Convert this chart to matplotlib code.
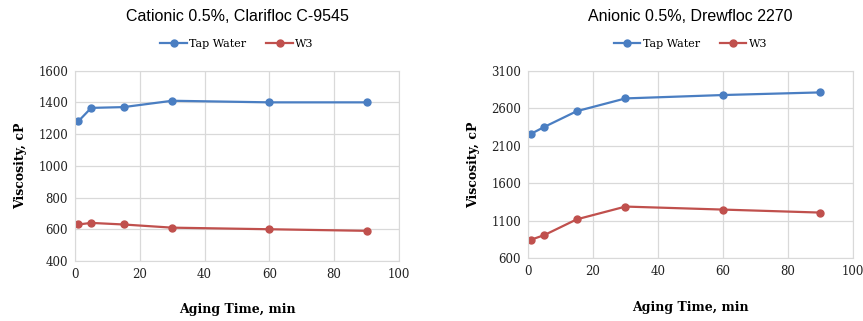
import matplotlib
matplotlib.use('Agg')
import matplotlib.pyplot as plt

# aging time, min
time_min = [1, 5, 15, 30, 60, 90]

# cationic 0.5%, Clarifloc C-9545
cat_tap = [1280, 1365, 1370, 1410, 1400, 1400]
cat_w3 = [630, 640, 630, 610, 600, 590]

# anionic 0.5%, Drewfloc 2270
an_tap = [2260, 2350, 2560, 2730, 2775, 2810]
an_w3 = [850, 910, 1120, 1290, 1250, 1210]

titles = ['Cationic 0.5%, Clarifloc C-9545', 'Anionic 0.5%, Drewfloc 2270']
yticks_list = [list(range(400, 1601, 200)), list(range(600, 3101, 500))]

blue = '#4A7EC2'
red = '#C0504D'
serif = 'DejaVu Serif'
sans = 'Liberation Sans'

fig = plt.figure(figsize=(8.63, 3.21), dpi=100)
ax1 = fig.add_axes([0.0869, 0.187, 0.3754, 0.593])
ax2 = fig.add_axes([0.6118, 0.195, 0.3766, 0.585])

for ax, tap, w3, title, yt in zip([ax1, ax2], [cat_tap, an_tap], [cat_w3, an_w3], titles, yticks_list):
    ax.plot(time_min, tap, color=blue, lw=1.6, marker='o', ms=5, label='Tap Water')
    ax.plot(time_min, w3, color=red, lw=1.6, marker='o', ms=5, label='W3')
    ax.set_xlim(0, 100)
    ax.set_ylim(yt[0], yt[-1])
    ax.set_xticks(range(0, 101, 20))
    ax.set_yticks(yt)
    ax.grid(True, color='#D9D9D9', lw=0.9)
    ax.set_axisbelow(True)
    for s in ax.spines.values():
        s.set_color('#D9D9D9')
    ax.tick_params(length=0, pad=5, labelsize=8.5, labelcolor='#222222')
    for lbl in ax.get_xticklabels() + ax.get_yticklabels():
        lbl.set_fontfamily(serif)
    ax.set_xlabel('Aging Time, min', fontfamily=serif, fontweight='bold', fontsize=9, labelpad=16)
    ax.set_ylabel('Viscosity, cP', fontfamily=serif, fontweight='bold', fontsize=9, labelpad=8)
    ax.set_title(title, fontfamily=sans, fontsize=11.5, pad=36)
    leg = ax.legend(loc='lower center', bbox_to_anchor=(0.5, 1.09), ncol=2, frameon=False,
                    prop={'family': serif, 'size': 8}, handlelength=2.4, handletextpad=0.2,
                    columnspacing=1.8, borderaxespad=0)

fig.savefig('out.png', dpi=100)
